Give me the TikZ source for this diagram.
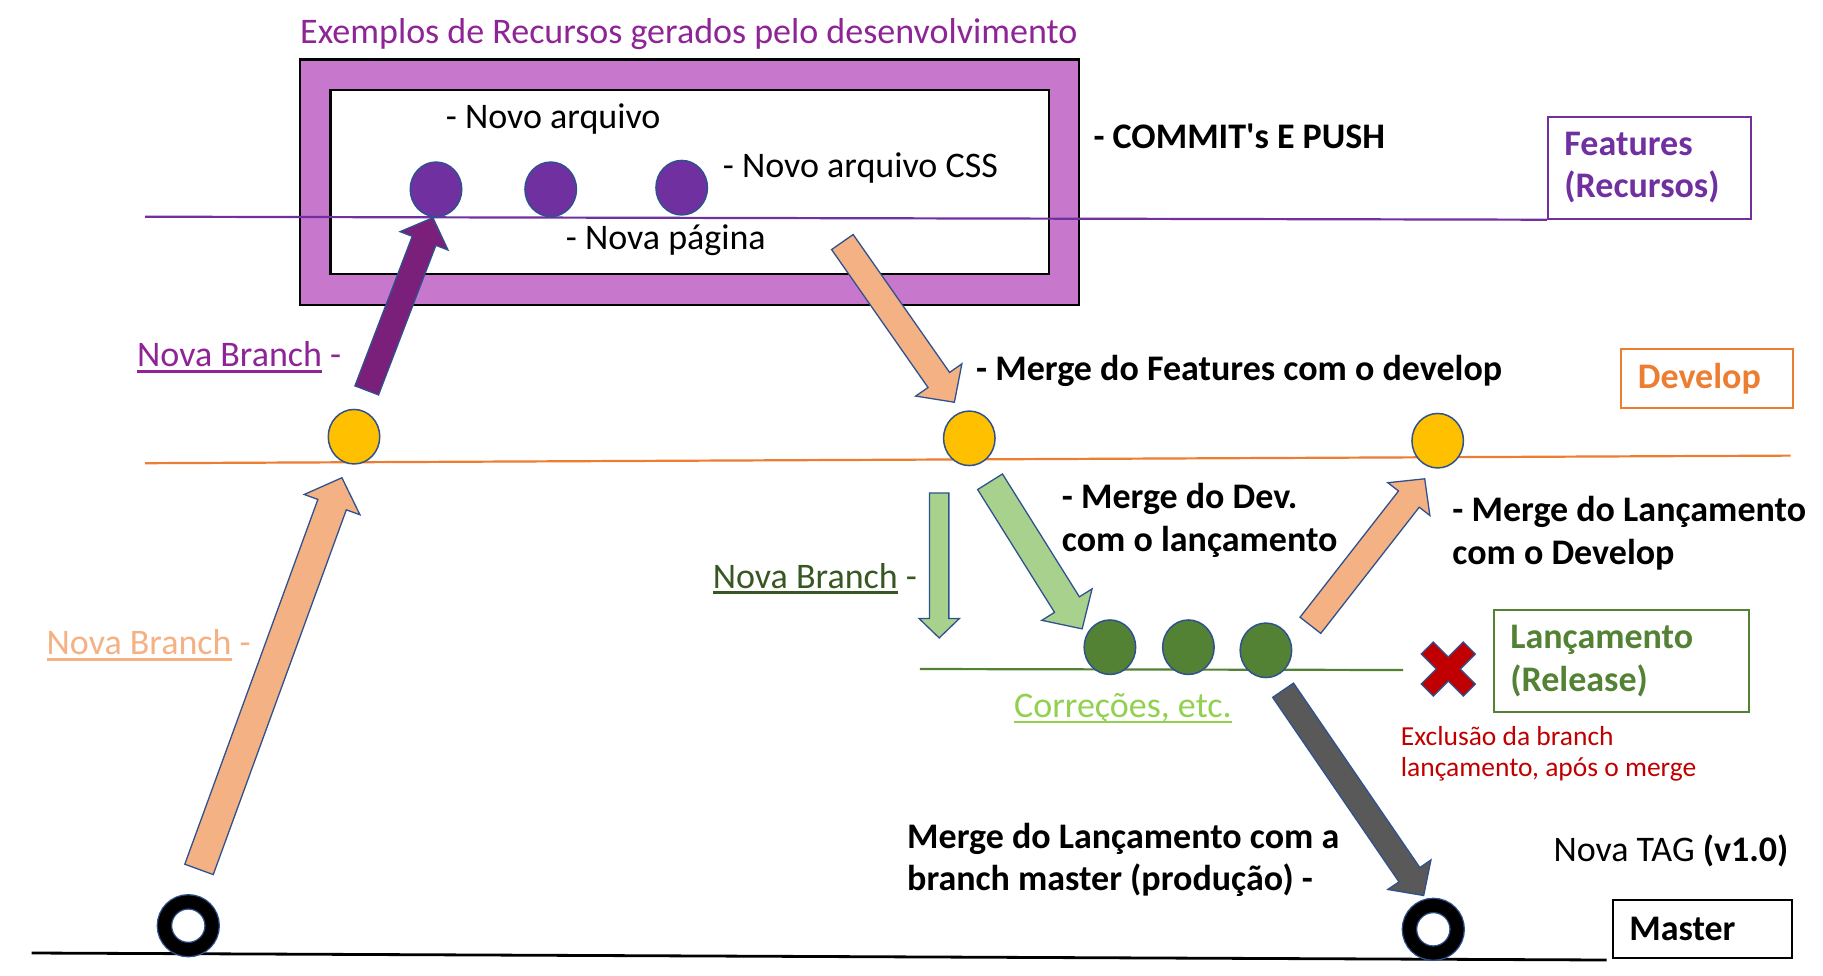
\documentclass[tikz,border=0pt]{standalone}
\usepackage{fontspec}
\setmainfont{Carlito}
\usetikzlibrary{shapes.geometric,shapes.arrows,calc}

\definecolor{titlepurple}{RGB}{142,36,150}
\definecolor{featpurple}{RGB}{112,48,160}
\definecolor{boxorchid}{RGB}{200,120,204}
\definecolor{arrowpurple}{RGB}{122,32,122}
\definecolor{peach}{RGB}{244,177,131}
\definecolor{edgeblue}{RGB}{47,82,143}
\definecolor{devorange}{RGB}{237,125,49}
\definecolor{gold}{RGB}{255,192,0}
\definecolor{lightgreen}{RGB}{169,209,142}
\definecolor{relgreen}{RGB}{84,130,53}
\definecolor{darkgreen}{RGB}{56,87,35}
\definecolor{limegreen}{RGB}{146,208,80}
\definecolor{exred}{RGB}{192,0,0}
\definecolor{arrowgray}{RGB}{89,89,89}

\newcommand{\bigtext}{\fontsize{36}{42.5}\selectfont}
\newcommand{\smalltext}{\fontsize{27.5}{31.7}\selectfont}
\newcommand{\undl}[1]{\setbox0\hbox{#1}\rlap{\rule[-6pt]{\wd0}{2.7pt}}\box0\relax}
\newcommand{\fatarrow}[4]{\path let \p1=($(#4)-(#3)$), \n1={atan2(\y1,\x1)}, \n2={veclen(\x1,\y1)} in
  node[fatarrow,#2,anchor=tail,rotate=\n1,minimum height=\n2] (#1) at (#3) {};}

\tikzset{
  lbl/.style={inner sep=0pt, anchor=base west, font=\bigtext, align=left},
  commitdot/.style={ellipse, draw=edgeblue, line width=1.5pt, minimum width=51.5pt, minimum height=54.5pt, inner sep=0pt},
  tagring/.style={circle, draw=edgeblue, line width=1.3pt, double=black, double distance=13pt, minimum size=47.7pt, inner sep=0pt},
  labelbox/.style={draw, line width=2pt, font=\bigtext\bfseries, align=left, inner xsep=16.6pt, inner ysep=0pt, anchor=north west},
  fatarrow/.style={single arrow, draw=edgeblue, line width=1.3pt, inner xsep=0pt, single arrow tip angle=92},
  branchline/.style={line width=2.2pt},
  xmark/.style={fill=exred, draw=edgeblue, line width=1.3pt}
}

\begin{document}
\begin{tikzpicture}[x=1pt,y=-1pt]
  \useasboundingbox (0,0) rectangle (1823,975);

  \draw[fill=boxorchid, line width=2.5pt] (300,59.3) rectangle (1079,305);
  \draw[fill=white, line width=2.5pt] (330.7,90) rectangle (1048.8,274);

  \node[labelbox, draw=featpurple, text=featpurple, text width=169.7pt, minimum height=102pt] (featbox) at (1546.8,115.7) {Features\\(Recursos)};
  \node[labelbox, draw=devorange, text=devorange, text width=138.3pt, minimum height=58.4pt] (devbox) at (1620.3,348.3) {Develop};
  \node[labelbox, draw=relgreen, text=relgreen, text width=222.4pt, minimum height=101.7pt] (relbox) at (1492.7,609) {Lançamento\\(Release)};
  \node[labelbox, draw=black, text width=145.8pt, minimum height=58pt] (masterbox) at (1611.7,899) {Master};

  \coordinate (featstart) at (145,216.7);
  \coordinate (devstart) at (145,463.2);
  \coordinate (devend) at (1790.6,455.6);
  \coordinate (relstart) at (919.9,669);
  \coordinate (relend) at (1403.2,670);
  \coordinate (masterstart) at (31.7,953);
  \coordinate (masterend) at (1606.7,960);
  \draw[branchline, featpurple] (featstart) -- (featbox.south west);
  \draw[branchline, devorange] (devstart) -- (devend);
  \draw[branchline, relgreen] (relstart) -- (relend);
  \draw[branchline, black, line width=2.8pt] (masterstart) -- (masterend);

  \node[commitdot, fill=featpurple] (f1) at (436,189.3) {};
  \node[commitdot, fill=featpurple] (f2) at (550.7,189.3) {};
  \node[commitdot, fill=featpurple] (f3) at (681.7,187.7) {};
  \node[commitdot, fill=gold] (d1) at (354,436.7) {};
  \node[commitdot, fill=gold] (d2) at (969.3,438.3) {};
  \node[commitdot, fill=gold] (d3) at (1437.7,440.7) {};
  \node[commitdot, fill=relgreen] (r1) at (1109.9,647.2) {};
  \node[commitdot, fill=relgreen] (r2) at (1188.4,647.2) {};
  \node[commitdot, fill=relgreen] (r3) at (1265.9,650.3) {};
  \node[tagring] (m1) at (188.3,925.7) {};
  \node[tagring] (m2) at (1433.3,929.3) {};

  \coordinate (featout) at (366.5,391);   \coordinate (featin) at (432.7,218.3);
  \coordinate (mergeout) at (842,241.5);  \coordinate (mergein) at (954,401.7);
  \coordinate (devout) at (198.8,870);    \coordinate (devin) at (341.7,478.3);
  \coordinate (relout) at (939.2,492.3);  \coordinate (relin) at (939.2,637.3);
  \coordinate (fixout) at (989.7,481.2);  \coordinate (fixin) at (1081.8,628.3);
  \coordinate (backout) at (1310,625.8);  \coordinate (backin) at (1424.3,479.3);
  \coordinate (prodout) at (1282.7,689.7); \coordinate (prodin) at (1423.3,895);
  \fatarrow{a1}{fill=arrowpurple, inner ysep=12pt, single arrow head extend=13pt}{featout}{featin}
  \fatarrow{a2}{fill=peach, inner ysep=12.5pt, single arrow head extend=15pt}{mergeout}{mergein}
  \fatarrow{a3}{fill=peach, inner ysep=14.5pt, single arrow head extend=14.5pt}{devout}{devin}
  \fatarrow{a4}{fill=lightgreen, inner ysep=9pt, single arrow head extend=10.5pt}{relout}{relin}
  \fatarrow{a5}{fill=lightgreen, inner ysep=14pt, single arrow head extend=15pt}{fixout}{fixin}
  \fatarrow{a6}{fill=peach, inner ysep=12.5pt, single arrow head extend=13.5pt}{backout}{backin}
  \fatarrow{a7}{fill=arrowgray, inner ysep=12pt, single arrow head extend=13.5pt}{prodout}{prodin}

  \draw[xmark, shift={(1448.3,669)}, rotate=45] (8.5,8.5) -- (8.5,29.7) -- (-8.5,29.7) -- (-8.5,8.5) -- (-29.7,8.5) -- (-29.7,-8.5) -- (-8.5,-8.5) -- (-8.5,-29.7) -- (8.5,-29.7) -- (8.5,-8.5) -- (29.7,-8.5) -- (29.7,8.5) -- cycle;

  \node[lbl, text=titlepurple] (title) at (300,43) {Exemplos de Recursos gerados pelo desenvolvimento};
  \node[lbl] (novoarq) at (445.7,128.3) {- Novo arquivo};
  \node[lbl] (novocss) at (722.7,177.3) {- Novo arquivo CSS};
  \node[lbl] (novapag) at (565.7,249.3) {- Nova página};
  \node[lbl, font=\bigtext\bfseries] (commit) at (1093.3,148.3) {- COMMIT\textquotesingle s E PUSH};
  \node[lbl, text=titlepurple] (featbranch) at (137,366.7) {\undl{Nova Branch} -};
  \node[lbl, font=\bigtext\bfseries] (featmerge) at (976,380) {- Merge do Features com o develop};
  \node[lbl, font=\bigtext\bfseries] (devmerge) at (1061.7,551) {- Merge do Dev.\\com o lançamento};
  \node[lbl, text=darkgreen] (relbranch) at (712.7,588) {\undl{Nova Branch} -};
  \node[lbl, text=peach] (devbranch) at (46.5,654.6) {\undl{Nova Branch} -};
  \node[lbl, font=\bigtext\bfseries] (backmerge) at (1452.2,564) {- Merge do Lançamento\\com o Develop};
  \node[lbl, text=limegreen] (fixes) at (1014,717.3) {\undl{Correções, etc.}};
  \node[lbl, font=\smalltext, text=exred] (delete) at (1400.7,776.7) {Exclusão da branch\\lançamento, após o merge};
  \node[lbl, font=\bigtext\bfseries] (prodmerge) at (907,890.6) {Merge do Lançamento com a\\branch master (produção) -};
  \node[lbl] (newtag) at (1553.3,861.7) {Nova TAG \textbf{(v1.0)}};
\end{tikzpicture}
\end{document}
